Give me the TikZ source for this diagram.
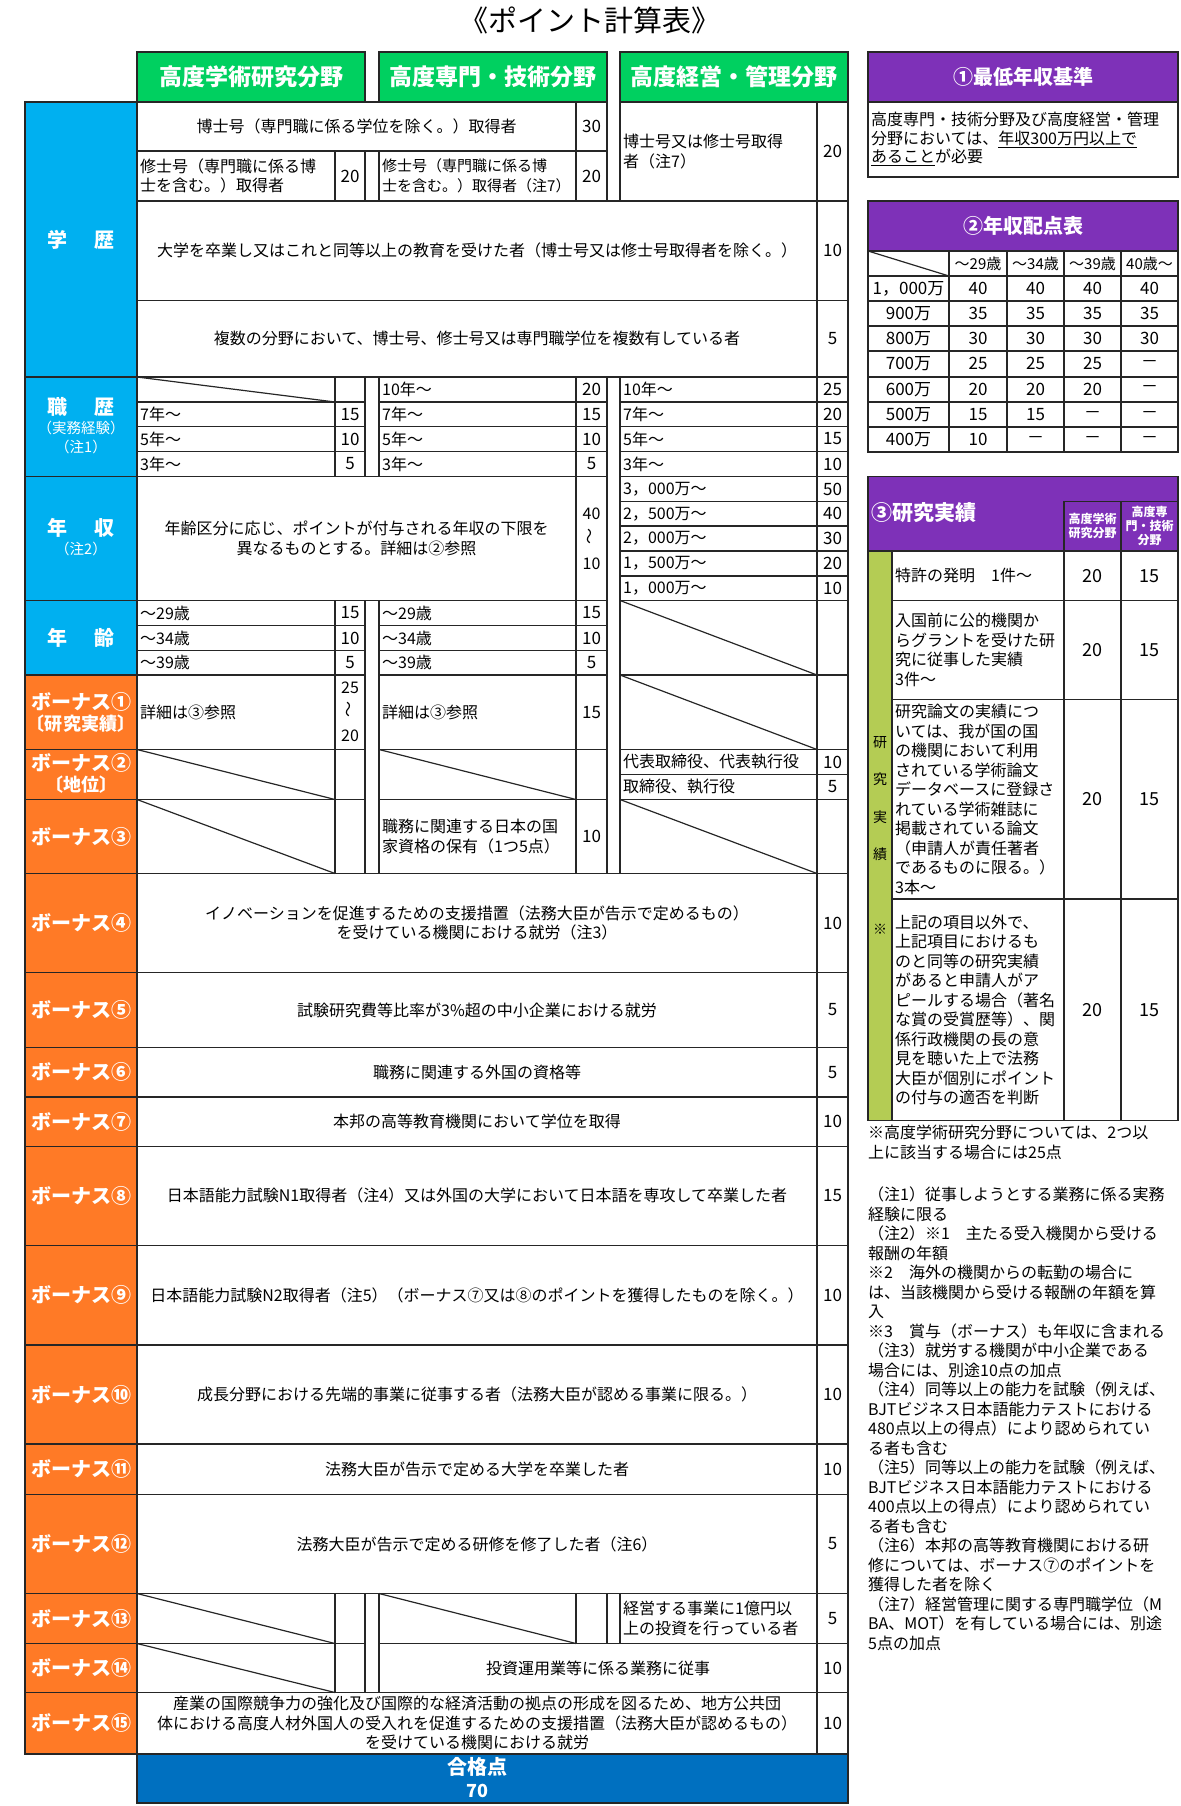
\documentclass[tikz,border=0pt]{standalone}
\usepackage{fontspec}
\setmainfont{Noto Sans CJK JP}
\definecolor{lcol}{RGB}{38,38,38}
\definecolor{hdgreen}{RGB}{0,208,96}
\definecolor{hdpurple}{RGB}{126,49,184}
\definecolor{catblue}{RGB}{0,176,240}
\definecolor{catorange}{RGB}{255,122,38}
\definecolor{passblue}{RGB}{0,112,192}
\definecolor{colgreen}{RGB}{180,204,84}
\newcommand{\wave}{\rotatebox{90}{～}}
\begin{document}
\begin{tikzpicture}[x=1pt, y=-1pt,
 grid/.style={draw=lcol, line width=1.2pt},
 txt/.style={font=\fontsize{16}{19.5}\selectfont, inner sep=0pt, align=center},
 ltxt/.style={txt, anchor=west, align=left},
 pts/.style={txt, font=\fontsize{17}{19.5}\selectfont},
 cat/.style={text=white, font=\fontsize{20}{22}\selectfont\bfseries, inner sep=0pt},
 catsub/.style={text=white, font=\fontsize{14.5}{17}\selectfont, inner sep=0pt},
 head/.style={draw=lcol, line width=1.2pt, fill=hdgreen, text=white, font=\fontsize{23}{26}\selectfont\bfseries, minimum width=228pt, minimum height=50pt, inner sep=0pt},
 ptitle/.style={text=white, font=\fontsize{20}{22}\selectfont\bfseries, inner sep=0pt},
 vtxt/.style={font=\fontsize{17}{19}\selectfont, inner sep=0pt}]
\useasboundingbox (0,0) rectangle (1180,1806);

\node[font=\fontsize{29}{32}\selectfont] (ttl) at (590,20) {《ポイント計算表》};
\node[head] (hd1) at (251,77) {高度学術研究分野};
\node[head] (hd2) at (493,77) {高度専門・技術分野};
\node[head] (hd3) at (734,77) {高度経営・管理分野};

\fill[catblue] (25,102) rectangle (137,675);
\fill[catorange] (25,675) rectangle (137,1754);
\foreach \ya/\yb in {102/377, 377/476.5, 476.5/600.5, 600.5/675, 675/749.5, 749.5/799.5, 799.5/873.5, 873.5/972.5, 972.5/1047.5, 1047.5/1097, 1097/1146.5, 1146.5/1245.5, 1245.5/1345, 1345/1444, 1444/1494.5, 1494.5/1593.5, 1593.5/1643.5, 1643.5/1692.5, 1692.5/1754}
  \draw[grid] (25,\ya) rectangle (137,\yb);
\fill[passblue] (137,1754) rectangle (848,1803);
\draw[grid] (137,1754) rectangle (848,1803);

\foreach \ya/\yb in {377/402, 402/426.5, 426.5/451.5, 451.5/476.5, 675/749.5, 799.5/873.5, 1593.5/1643.5}
  \foreach \xa/\xb/\xc in {137/335/365, 379/576/607, 620/817/848} {
    \draw[grid] (\xa,\ya) rectangle (\xb,\yb);
    \draw[grid] (\xb,\ya) rectangle (\xc,\yb);
  }
\foreach \ya/\yb in {151/201, 600.5/625.5, 625.5/650.5, 650.5/675, 749.5/799.5}
  \foreach \xa/\xb/\xc in {137/335/365, 379/576/607} {
    \draw[grid] (\xa,\ya) rectangle (\xb,\yb);
    \draw[grid] (\xb,\ya) rectangle (\xc,\yb);
  }
\foreach \ya/\yb in {102/201, 476.5/501.5, 501.5/526, 526/551, 551/576, 576/600.5, 600.5/675, 749.5/774.5, 774.5/799.5} {
  \draw[grid] (620,\ya) rectangle (817,\yb);
  \draw[grid] (817,\ya) rectangle (848,\yb);
}
\foreach \ya/\yb in {201/300.5, 300.5/377, 873.5/972.5, 972.5/1047.5, 1047.5/1097, 1097/1146.5, 1146.5/1245.5, 1245.5/1345, 1345/1444, 1444/1494.5, 1494.5/1593.5, 1692.5/1754} {
  \draw[grid] (137,\ya) rectangle (817,\yb);
  \draw[grid] (817,\ya) rectangle (848,\yb);
}
\foreach \ya/\yb in {102/151, 476.5/600.5} {
  \draw[grid] (137,\ya) rectangle (576,\yb);
  \draw[grid] (576,\ya) rectangle (607,\yb);
}
\draw[grid] (137,1643.5) rectangle (335,1692.5);
\draw[grid] (335,1643.5) rectangle (365,1692.5);
\draw[grid] (379,1643.5) rectangle (817,1692.5);
\draw[grid] (817,1643.5) rectangle (848,1692.5);

\draw[grid] (137,377) -- (335,402);
\draw[grid] (620,600.5) -- (817,675);
\draw[grid] (620,675) -- (817,749.5);
\draw[grid] (137,749.5) -- (335,799.5);
\draw[grid] (379,749.5) -- (576,799.5);
\draw[grid] (137,799.5) -- (335,873.5);
\draw[grid] (620,799.5) -- (817,873.5);
\draw[grid] (137,1593.5) -- (335,1643.5);
\draw[grid] (379,1593.5) -- (576,1643.5);
\draw[grid] (137,1643.5) -- (335,1692.5);

\node[cat] (k1) at (81,239.5) {学\hspace{1.4em}歴};
\node[cat] (k2) at (81,407) {職\hspace{1.4em}歴};
\node[catsub] (k2a) at (81,428) {（実務経験）};
\node[catsub] (k2b) at (81,447) {（注1）};
\node[cat] (k3) at (81,528) {年\hspace{1.4em}収};
\node[catsub] (k3a) at (81,549) {（注2）};
\node[cat] (k4) at (81,638) {年\hspace{1.4em}齢};
\node[cat] (k5) at (81,702) {ボーナス①};
\node[cat, font=\fontsize{18}{20}\selectfont\bfseries] (k5a) at (81,724) {〔研究実績〕};
\node[cat] (k6) at (81,763) {ボーナス②};
\node[cat, font=\fontsize{18}{20}\selectfont\bfseries] (k6a) at (81,785) {〔地位〕};
\foreach \y/\t [count=\i] in {836.5/ボーナス③, 923/ボーナス④, 1010/ボーナス⑤, 1072.25/ボーナス⑥, 1121.75/ボーナス⑦, 1195.5/ボーナス⑧, 1295.25/ボーナス⑨, 1394.5/ボーナス⑩, 1469.25/ボーナス⑪, 1544/ボーナス⑫, 1618.5/ボーナス⑬, 1668/ボーナス⑭, 1723.25/ボーナス⑮}
  \node[cat] (kb\i) at (81,\y) {\t};

\node[txt] (e1) at (356.5,126.5) {博士号（専門職に係る学位を除く。）取得者};
\node[pts] (e1p) at (591.5,126.5) {30};
\node[ltxt] (e2a) at (140,176) {修士号（専門職に係る博\\士を含む。）取得者};
\node[pts] (e2ap) at (350,176) {20};
\node[ltxt, font=\fontsize{15}{19.5}\selectfont] (e2b) at (382,176) {修士号（専門職に係る博\\士を含む。）取得者（注7）};
\node[pts] (e2bp) at (591.5,176) {20};
\node[ltxt] (e2c) at (623,151.5) {博士号又は修士号取得\\者（注7）};
\node[pts] (e2cp) at (832.5,151.5) {20};
\node[txt] (e3) at (477,250.75) {大学を卒業し又はこれと同等以上の教育を受けた者（博士号又は修士号取得者を除く。）};
\node[pts] (e3p) at (832.5,250.75) {10};
\node[txt] (e4) at (477,338.75) {複数の分野において、博士号、修士号又は専門職学位を複数有している者};
\node[pts] (e4p) at (832.5,338.75) {5};

\foreach \y/\ta/\pa/\tb/\pb/\tc/\pc [count=\i] in {389.5/{}/{}/10年～/20/10年～/25, 414.25/7年～/15/7年～/15/7年～/20, 439/5年～/10/5年～/10/5年～/15, 464/3年～/5/3年～/5/3年～/10} {
  \node[ltxt] (wa\i) at (140,\y) {\ta};
  \node[pts] (wap\i) at (350,\y) {\pa};
  \node[ltxt] (wb\i) at (382,\y) {\tb};
  \node[pts] (wbp\i) at (591.5,\y) {\pb};
  \node[ltxt] (wc\i) at (623,\y) {\tc};
  \node[pts] (wcp\i) at (832.5,\y) {\pc};
}

\node[txt] (i1) at (356.5,538.5) {年齢区分に応じ、ポイントが付与される年収の下限を\\異なるものとする。詳細は②参照};
\node[pts, font=\fontsize{16}{25}\selectfont] (i1p) at (591.5,538.5) {40\\\wave\\10};
\foreach \y/\t/\p [count=\i] in {489/3，000万～/50, 513.75/2，500万～/40, 538.5/2，000万～/30, 563.5/1，500万～/20, 588.25/1，000万～/10} {
  \node[ltxt] (ic\i) at (623,\y) {\t};
  \node[pts] (icp\i) at (832.5,\y) {\p};
}

\foreach \y/\t/\pa/\pb [count=\i] in {613/～29歳/15/15, 638/～34歳/10/10, 662.75/～39歳/5/5} {
  \node[ltxt] (ga\i) at (140,\y) {\t};
  \node[pts] (gap\i) at (350,\y) {\pa};
  \node[ltxt] (gb\i) at (382,\y) {\t};
  \node[pts] (gbp\i) at (591.5,\y) {\pb};
}

\node[ltxt] (b1a) at (140,712.25) {詳細は③参照};
\node[pts, font=\fontsize{16}{24}\selectfont] (b1ap) at (350,712.25) {25\\\wave\\20};
\node[ltxt] (b1b) at (382,712.25) {詳細は③参照};
\node[pts] (b1bp) at (591.5,712.25) {15};
\node[ltxt] (b2c1) at (623,762) {代表取締役、代表執行役};
\node[pts] (b2cp1) at (832.5,762) {10};
\node[ltxt] (b2c2) at (623,787) {取締役、執行役};
\node[pts] (b2cp2) at (832.5,787) {5};
\node[ltxt] (b3b) at (382,836.5) {職務に関連する日本の国\\家資格の保有（1つ5点）};
\node[pts] (b3bp) at (591.5,836.5) {10};

\node[txt] (b4) at (477,923) {イノベーションを促進するための支援措置（法務大臣が告示で定めるもの）\\を受けている機関における就労（注3）};
\node[pts] (b4p) at (832.5,923) {10};
\node[txt] (b5) at (477,1010) {試験研究費等比率が3\%超の中小企業における就労};
\node[pts] (b5p) at (832.5,1010) {5};
\node[txt] (b6) at (477,1072.25) {職務に関連する外国の資格等};
\node[pts] (b6p) at (832.5,1072.25) {5};
\node[txt] (b7) at (477,1121.75) {本邦の高等教育機関において学位を取得};
\node[pts] (b7p) at (832.5,1121.75) {10};
\node[txt] (b8) at (477,1195.5) {日本語能力試験N1取得者（注4）又は外国の大学において日本語を専攻して卒業した者};
\node[pts] (b8p) at (832.5,1195.5) {15};
\node[txt] (b9) at (477,1295.25) {日本語能力試験N2取得者（注5）（ボーナス⑦又は⑧のポイントを獲得したものを除く。）};
\node[pts] (b9p) at (832.5,1295.25) {10};
\node[txt] (b10) at (477,1394.5) {成長分野における先端的事業に従事する者（法務大臣が認める事業に限る。）};
\node[pts] (b10p) at (832.5,1394.5) {10};
\node[txt] (b11) at (477,1469.25) {法務大臣が告示で定める大学を卒業した者};
\node[pts] (b11p) at (832.5,1469.25) {10};
\node[txt] (b12) at (477,1544) {法務大臣が告示で定める研修を修了した者（注6）};
\node[pts] (b12p) at (832.5,1544) {5};
\node[ltxt] (b13) at (623,1618.5) {経営する事業に1億円以\\上の投資を行っている者};
\node[pts] (b13p) at (832.5,1618.5) {5};
\node[txt] (b14) at (598,1668) {投資運用業等に係る業務に従事};
\node[pts] (b14p) at (832.5,1668) {10};
\node[txt] (b15) at (477,1723.25) {産業の国際競争力の強化及び国際的な経済活動の拠点の形成を図るため、地方公共団\\体における高度人材外国人の受入れを促進するための支援措置（法務大臣が認めるもの）\\を受けている機関における就労};
\node[pts] (b15p) at (832.5,1723.25) {10};
\node[ptitle] (ps) at (477,1766.5) {合格点};
\node[ptitle, font=\fontsize{18}{20}\selectfont\bfseries] (psv) at (477,1790.5) {70};

\fill[hdpurple] (868,52) rectangle (1178,102);
\draw[grid] (868,52) rectangle (1178,102);
\draw[grid] (868,102) rectangle (1178,177);
\node[ptitle] (m1) at (1023,77) {①最低年収基準};
\node[txt, anchor=north west, align=left, font=\fontsize{16}{18.5}\selectfont] (m1t) at (871,112) {高度専門・技術分野及び高度経営・管理\\分野においては、\underline{年収300万円以上で}\\\underline{あること}が必要};

\fill[hdpurple] (868,201) rectangle (1178,251);
\draw[grid] (868,201) rectangle (1178,251);
\node[ptitle] (m2) at (1023,226) {②年収配点表};
\foreach \ya/\yb in {251/276, 276/301, 301/326, 326/351, 351/377, 377/402, 402/427, 427/452}
  \foreach \xa/\xb in {868/949, 949/1007, 1007/1064, 1064/1121, 1121/1178}
    \draw[grid] (\xa,\ya) rectangle (\xb,\yb);
\draw[grid] (868,251) -- (949,276);
\foreach \x/\t [count=\i] in {978/～29歳, 1035.5/～34歳, 1092.5/～39歳, 1149.5/40歳～}
  \node[font=\fontsize{15}{17}\selectfont, inner sep=0pt] (yh\i) at (\x,263.5) {\t};
\foreach \y/\t/\a/\b/\c/\d [count=\i] in {288.5/1，000万/40/40/40/40, 313.5/900万/35/35/35/35, 338.5/800万/30/30/30/30, 363.75/700万/25/25/25/－, 389.5/600万/20/20/20/－, 414.75/500万/15/15/－/－, 439.75/400万/10/－/－/－} {
  \node[vtxt] (yl\i) at (908.5,\y) {\t};
  \node[vtxt] (ya\i) at (978,\y) {\a};
  \node[vtxt] (yb\i) at (1035.5,\y) {\b};
  \node[vtxt] (yc\i) at (1092.5,\y) {\c};
  \node[vtxt] (yd\i) at (1149.5,\y) {\d};
}

\fill[hdpurple] (868,476.5) rectangle (1178,551);
\draw[grid] (868,476.5) rectangle (1178,551);
\draw[grid] (1064,501.5) rectangle (1121,551);
\draw[grid] (1121,501.5) rectangle (1178,551);
\node[ptitle, font=\fontsize{21}{23}\selectfont\bfseries, anchor=west] (m3) at (871,513) {③研究実績};
\node[ptitle, align=center, font=\fontsize{12}{14}\selectfont\bfseries] (rh1) at (1092.5,526) {高度学術\\研究分野};
\node[ptitle, align=center, font=\fontsize{12}{14}\selectfont\bfseries] (rh2) at (1149.5,526) {高度専\\門・技術\\分野};
\fill[colgreen] (868,551) rectangle (892,1120.5);
\draw[grid] (868,551) rectangle (892,1120.5);
\foreach \ya/\yb in {551/600.5, 600.5/699.5, 699.5/899, 899/1120.5}
  \foreach \xa/\xb in {892/1064, 1064/1121, 1121/1178}
    \draw[grid] (\xa,\ya) rectangle (\xb,\yb);
\node[txt, font=\fontsize{14}{37.5}\selectfont] (rv) at (880,835.5) {研\\究\\実\\績\\\mbox{}\\※};
\node[ltxt] (rr1) at (895,575.75) {特許の発明　1件～};
\node[ltxt] (rr2) at (895,650) {入国前に公的機関か\\らグラントを受けた研\\究に従事した実績\\3件～};
\node[ltxt] (rr3) at (895,799.25) {研究論文の実績につ\\いては、我が国の国\\の機関において利用\\されている学術論文\\データベースに登録さ\\れている学術雑誌に\\掲載されている論文\\（申請人が責任著者\\であるものに限る。）\\3本～};
\node[ltxt] (rr4) at (895,1009.75) {上記の項目以外で、\\上記項目におけるも\\のと同等の研究実績\\があると申請人がア\\ピールする場合（著名\\な賞の受賞歴等）、関\\係行政機関の長の意\\見を聴いた上で法務\\大臣が個別にポイント\\の付与の適否を判断};
\foreach \y [count=\i] in {575.75, 650, 799.25, 1009.75} {
  \node[vtxt, font=\fontsize{18}{20}\selectfont] (ra\i) at (1092.5,\y) {20};
  \node[vtxt, font=\fontsize{18}{20}\selectfont] (rb\i) at (1149.5,\y) {15};
}

\node[txt, anchor=north west, align=left] (nt0) at (868,1125) {※高度学術研究分野については、2つ以\\上に該当する場合には25点};
\node[txt, anchor=north west, align=left] (nt1) at (868,1187) {（注1）従事しようとする業務に係る実務\\経験に限る\\（注2）※1　主たる受入機関から受ける\\報酬の年額\\※2　海外の機関からの転勤の場合に\\は、当該機関から受ける報酬の年額を算\\入\\※3　賞与（ボーナス）も年収に含まれる\\（注3）就労する機関が中小企業である\\場合には、別途10点の加点\\（注4）同等以上の能力を試験（例えば、\\BJTビジネス日本語能力テストにおける\\480点以上の得点）により認められてい\\る者も含む\\（注5）同等以上の能力を試験（例えば、\\BJTビジネス日本語能力テストにおける\\400点以上の得点）により認められてい\\る者も含む\\（注6）本邦の高等教育機関における研\\修については、ボーナス⑦のポイントを\\獲得した者を除く\\（注7）経営管理に関する専門職学位（M\\BA、MOT）を有している場合には、別途\\5点の加点};

\end{tikzpicture}
\end{document}
